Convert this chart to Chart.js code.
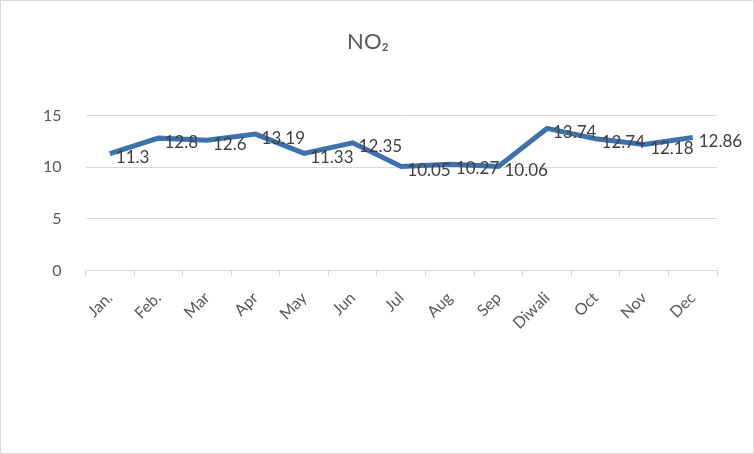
<!DOCTYPE html>
<html>
<head>
<meta charset="utf-8">
<script src="https://cdn.jsdelivr.net/npm/chart.js@4"></script>
<style>
  body { margin: 0; background: #fff; }
  #caja { width: 752px; height: 452px; border: 1px solid #d9d9d9; }
</style>
</head>
<body>
<div id="caja"><canvas id="no2__grafico" width="752" height="452"></canvas></div>
<script>
// datos
const meses = ['Jan.', 'Feb.', 'Mar', 'Apr', 'May', 'Jun', 'Jul', 'Aug', 'Sep', 'Diwali', 'Oct', 'Nov', 'Dec']
const valoresNO2 = [11.3, 12.8, 12.6, 13.19, 11.33, 12.35, 10.05, 10.27, 10.06, 13.74, 12.74, 12.18, 12.86]
const ticksY = [0, 5, 10, 15]

// etiquetas de datos a la derecha de cada punto
const etiquetas = {
    id: 'etiquetas',
    afterDatasetsDraw(chart) {
        const ctx = chart.ctx
        const meta = chart.getDatasetMeta(0)
        ctx.save()
        ctx.font = '17px Lato, "Liberation Sans", sans-serif'
        ctx.fillStyle = '#404040'
        ctx.textAlign = 'left'
        ctx.textBaseline = 'middle'
        meta.data.forEach((p, i) => {
            ctx.fillText(String(valoresNO2[i]), p.x + 6, p.y + 4)
        })
        ctx.restore()
    }
}

var ctxNO2 = document.getElementById('no2__grafico').getContext('2d')
var no2Chart = new Chart(ctxNO2, {
    type: 'line',
    data: {
        labels: meses,
        datasets: [{
            label: 'NO2',
            data: valoresNO2,
            borderColor: '#3d71ad',
            backgroundColor: '#3d71ad',
            borderWidth: 5,
            pointRadius: 0,
            tension: 0
        }]
    },
    options: {
        responsive: false,
        animation: false,
        layout: { padding: { left: 18, right: 36, top: 8, bottom: 108 } },
        plugins: {
            legend: { display: false },
            tooltip: { enabled: false },
            title: {
                display: true,
                text: 'NO\u2082',
                color: '#595959',
                font: { family: 'Lato, "Liberation Sans", sans-serif', size: 22, weight: 'normal' },
                padding: { top: 20, bottom: 60 }
            }
        },
        scales: {
            x: {
                offset: true,
                grid: { offset: true, drawOnChartArea: false, color: '#d9d9d9', tickLength: 6 },
                border: { color: '#d9d9d9' },
                ticks: {
                    color: '#595959',
                    font: { family: 'Lato, "Liberation Sans", sans-serif', size: 16 },
                    maxRotation: 45,
                    minRotation: 45,
                    padding: 12
                }
            },
            y: {
                min: 0,
                max: 15,
                afterBuildTicks: (axis) => { axis.ticks = ticksY.map(v => ({ value: v })) },
                grid: { color: '#d9d9d9', drawTicks: false },
                border: { display: false },
                ticks: {
                    color: '#595959',
                    font: { family: 'Lato, "Liberation Sans", sans-serif', size: 16 },
                    padding: 24
                }
            }
        }
    },
    plugins: [etiquetas]
})
</script>
</body>
</html>
